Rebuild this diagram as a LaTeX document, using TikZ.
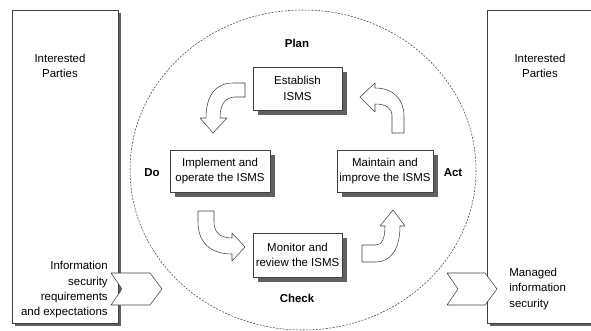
\documentclass[tikz,border=0pt]{standalone}
\usepackage{fontspec}
\setmainfont{Liberation Sans}
\usepackage{tikz}
\usetikzlibrary{shadows}
\definecolor{LineGray}{rgb}{0.25,0.25,0.25}
\definecolor{ShadowGray}{rgb}{0.38,0.38,0.38}

\begin{document}
\begin{tikzpicture}[x=0.75pt, y=-0.75pt,
		every node/.style={font=\fontsize{8.6}{11.5}\selectfont, inner sep=0pt},
		stepbox/.style={draw=LineGray, fill=white, thin, align=center,
			drop shadow={shadow xshift=3.8pt, shadow yshift=-3.8pt, fill=ShadowGray, opacity=1}},
		partybox/.style={draw=LineGray, fill=white, thin,
			drop shadow={shadow xshift=2pt, shadow yshift=-2pt, fill=ShadowGray, opacity=1}},
		phase/.style={font=\fontsize{8.6}{11.5}\selectfont\bfseries},
		blockarrow/.style={draw=LineGray, fill=white, thin, line join=round}]
		
		\useasboundingbox (0,0) rectangle (591,330);
		
		% cycle boundary
		\draw[LineGray, thin, dash pattern=on 1.5pt off 1pt] (303,170) ellipse [x radius=173, y radius=160];
		
		% interested parties
		\node[partybox, minimum width=79.5pt, minimum height=234.75pt] (leftbox) at (65,166.5) {};
		\node[partybox, minimum width=92pt, minimum height=234.75pt] (rightbox) at (548.5,166.5) {};
		\node[align=center] (leftparties) at (60,66) {Interested\\Parties};
		\node[align=center] (rightparties) at (540,66) {Interested\\Parties};
		
		% input and output chevrons
		\draw[blockarrow] (111,273) -- (150,273) -- (162,289) -- (150,305) -- (111,305) -- (122,289) -- cycle;
		\draw[blockarrow] (447,273) -- (485,273) -- (497,289) -- (485,305) -- (447,305) -- (458,289) -- cycle;
		\node[align=right, anchor=east] (inputtext) at (108,290) {Information\\security\\requirements\\and expectations};
		\node[align=left, anchor=west] (outputtext) at (509,289) {Managed\\information\\security};
		
		% PDCA steps
		\node[stepbox, minimum width=66.75pt, minimum height=32pt] (establish) at (297.5,88.5) {Establish\\ISMS};
		\node[stepbox, minimum width=75pt, minimum height=31.5pt] (implement) at (220,171) {Implement and\\operate the ISMS};
		\node[stepbox, minimum width=72pt, minimum height=31.5pt] (maintain) at (385,171) {Maintain and\\improve the ISMS};
		\node[stepbox, minimum width=66.75pt, minimum height=33pt] (monitor) at (297.5,255) {Monitor and\\review the ISMS};
		
		\node[phase] (plan) at (297,43) {Plan};
		\node[phase] (do) at (152,173) {Do};
		\node[phase] (act) at (453,173) {Act};
		\node[phase] (check) at (297,298) {Check};
		
		% curved block arrows
		\draw[blockarrow] (245,83) -- (233,83) .. controls (216,83) and (206,95) .. (206,118) -- (200,118) -- (213,133) -- (227,118) -- (220,118) .. controls (220,105) and (225,97) .. (235,97) -- (245,97) -- cycle;
		\draw[blockarrow] (198,211) -- (214,211) -- (214,222) .. controls (214,232) and (220,238) .. (232,238) -- (232,233) -- (245,247) -- (232,261) -- (232,254) .. controls (210,254) and (198,242) .. (198,222) -- cycle;
		\draw[blockarrow] (362,245) -- (376,245) .. controls (382,245) and (385,238) .. (385,226) -- (380,226) -- (393,210) -- (405,226) -- (400,226) .. controls (400,250) and (390,262) .. (376,262) -- (362,262) -- cycle;
		\draw[blockarrow] (392,133) -- (392,116) .. controls (392,108) and (386,104) .. (375,104) -- (375,112) -- (360,97) -- (375,83) -- (375,88) .. controls (394,88) and (404,100) .. (404,116) -- (404,133) -- cycle;
		
\end{tikzpicture}
\end{document}
